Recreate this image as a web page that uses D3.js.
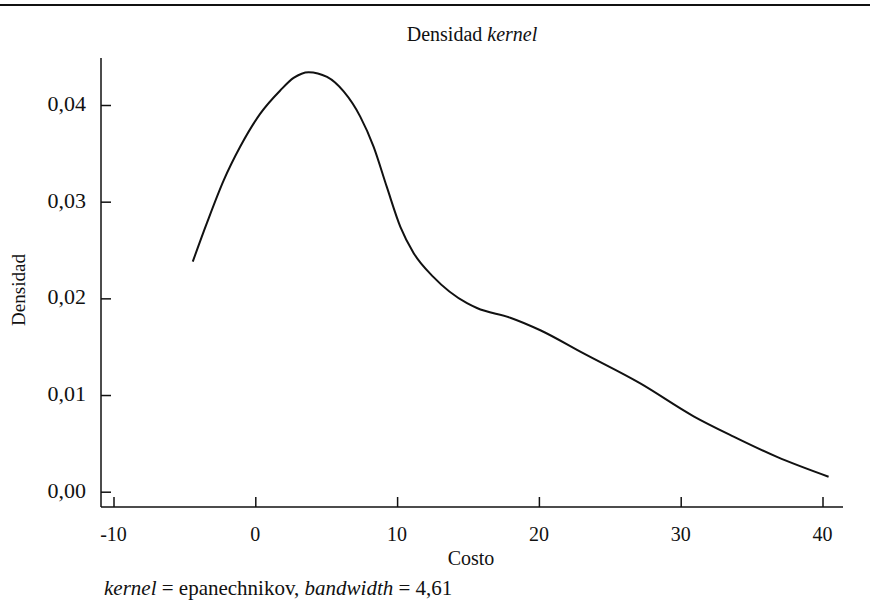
<!DOCTYPE html>
<html>
<head>
<meta charset="utf-8">
<script src="https://cdn.jsdelivr.net/npm/d3@7"></script>
<style>
body { margin:0; background:white; }
svg text { font-family: "Liberation Serif", "DejaVu Serif", serif; fill:#111; }
</style>
</head>
<body>
<svg id="kdens"></svg>
<script>
// estimated density values
var costo    = [-4.41, -3.41, -2.23, -1.06, 0.35, 1.76, 2.70, 3.76, 5.06, 6.23, 7.40, 8.34, 9.28, 10.23, 11.16, 12.57, 14.93, 15.63, 17.98, 20.10, 23.15, 27.15, 30.91, 33.73, 36.79, 40.43];
var densidad = [0.0238, 0.0278, 0.0322, 0.0357, 0.0391, 0.0415, 0.0428, 0.0434, 0.0429, 0.0414, 0.0388, 0.0357, 0.0315, 0.0274, 0.0247, 0.0222, 0.0195, 0.0190, 0.0180, 0.0167, 0.0143, 0.0112, 0.0078, 0.0057, 0.0036, 0.00155];
var xTicks = [-10, 0, 10, 20, 30, 40];
var yTicks = [0, 0.01, 0.02, 0.03, 0.04];
var yTickLabels = ["0,00", "0,01", "0,02", "0,03", "0,04"];

var screen = {width:870, height:616};
var frame = {left:101, right:843, top:58, bottom:507};

var svg = d3.select("#kdens")
    .attr("width", screen.width)
    .attr("height", screen.height)
    .attr("font-family", "Liberation Serif, serif");

var xScale = d3.scaleLinear()
    .domain([-10, 40])
    .range([113.5, 822.5]);
var yScale = d3.scaleLinear()
    .domain([0, 0.04])
    .range([491.7, 105]);

//rule across the top
svg.append("line")
    .attr("x1", 0).attr("x2", screen.width)
    .attr("y1", 5).attr("y2", 5)
    .attr("stroke", "#111")
    .attr("stroke-width", 2);

//axes (ticks point inward)
var drawAxes = function()
{
    var yAxis = d3.axisRight(yScale)
        .tickValues(yTicks)
        .tickSize(10)
        .tickFormat("");
    var xAxis = d3.axisTop(xScale)
        .tickValues(xTicks)
        .tickSize(10)
        .tickFormat("");

    var yg = svg.append("g")
        .attr("transform", "translate(" + frame.left + ",0)")
        .call(yAxis);
    var xg = svg.append("g")
        .attr("transform", "translate(0," + frame.bottom + ")")
        .call(xAxis);
    [yg, xg].forEach(function(g){
        g.select(".domain").remove();
        g.selectAll("line").attr("stroke", "#111").attr("stroke-width", 1.5);
    });

    svg.append("line")
        .attr("x1", frame.left).attr("x2", frame.left)
        .attr("y1", frame.top).attr("y2", frame.bottom)
        .attr("stroke", "#111").attr("stroke-width", 1.5);
    svg.append("line")
        .attr("x1", frame.left).attr("x2", frame.right)
        .attr("y1", frame.bottom).attr("y2", frame.bottom)
        .attr("stroke", "#111").attr("stroke-width", 1.5);

    //tick labels
    svg.append("g").selectAll("text")
        .data(yTicks)
        .enter()
        .append("text")
        .text(function(d, i){ return yTickLabels[i]; })
        .attr("text-anchor", "end")
        .attr("x", 86)
        .attr("y", function(d){ return yScale(d) + 6; })
        .style("font-size", "22px");
    svg.append("g").selectAll("text")
        .data(xTicks)
        .enter()
        .append("text")
        .text(function(d){ return d; })
        .attr("text-anchor", "middle")
        .attr("x", function(d){ return xScale(d); })
        .attr("y", 541)
        .style("font-size", "20px");
};

var drawLabels = function()
{
    var title = svg.append("text")
        .attr("text-anchor", "middle")
        .attr("x", 472)
        .attr("y", 41)
        .style("font-size", "20px");
    title.append("tspan").text("Densidad ");
    title.append("tspan").text("kernel").style("font-style", "italic");

    svg.append("text")
        .text("Costo")
        .attr("text-anchor", "middle")
        .attr("x", 471)
        .attr("y", 565)
        .style("font-size", "20px");

    svg.append("text")
        .text("Densidad")
        .attr("text-anchor", "middle")
        .attr("transform", "translate(25,290) rotate(-90)")
        .style("font-size", "19px");

    var note = svg.append("text")
        .attr("x", 104)
        .attr("y", 595)
        .style("font-size", "21px");
    note.append("tspan").text("kernel").style("font-style", "italic");
    note.append("tspan").text(" = epanechnikov, ");
    note.append("tspan").text("bandwidth").style("font-style", "italic");
    note.append("tspan").text(" = 4,61");
};

var drawCurve = function()
{
    var pts = costo.map(function(c, i){ return {x:c, y:densidad[i]}; });
    var linegen = d3.line()
        .x(function(p){ return xScale(p.x); })
        .y(function(p){ return yScale(p.y); })
        .curve(d3.curveMonotoneX);
    svg.append("path")
        .datum(pts)
        .attr("d", linegen)
        .attr("fill", "none")
        .attr("stroke", "#111")
        .attr("stroke-width", 2);
};

drawAxes();
drawCurve();
drawLabels();
</script>
</body>
</html>
